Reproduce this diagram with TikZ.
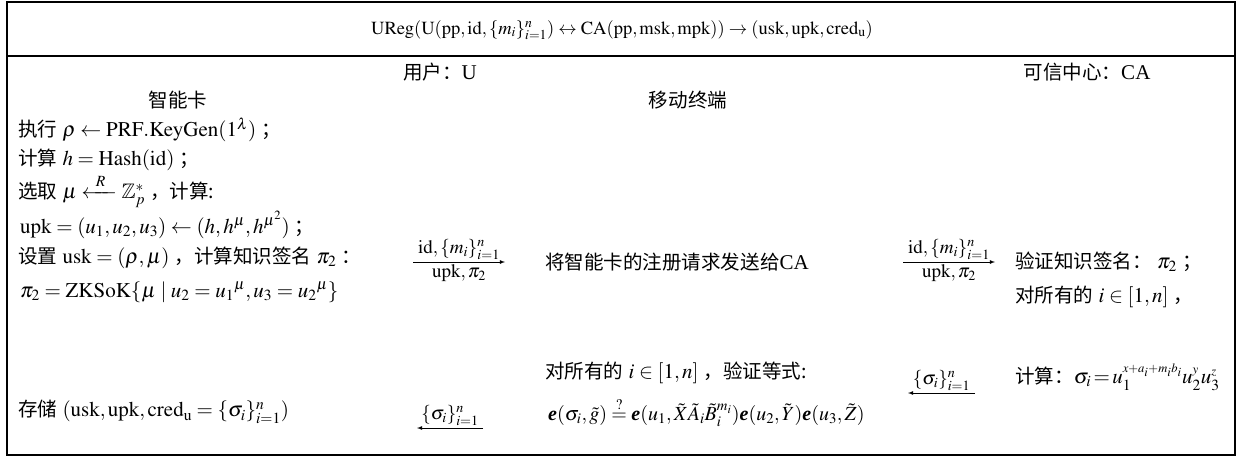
\documentclass[tikz,border=0pt]{standalone}
\usepackage{amsmath}
\usepackage{amssymb}
\usepackage{mathptmx}
\usepackage[no-math]{fontspec}
\setmainfont{Liberation Serif}
\newfontfamily\cjk[Scale=0.93]{Noto Sans CJK SC}
\newcommand{\zh}[1]{{\cjk #1}}
\newcommand{\be}{\textbf{\textit{e}}}
\usetikzlibrary{arrows}

\begin{document}
\begin{tikzpicture}[x=1pt, y=-1pt,
  txt/.style={anchor=west, inner sep=0pt, font=\fontsize{21}{25}\selectfont},
  head/.style={inner sep=0pt, font=\fontsize{21}{25}\selectfont},
  ttl/.style={inner sep=0pt, font=\fontsize{18.5}{22}\selectfont},
  lbl/.style={inner sep=2pt, font=\fontsize{19}{22}\selectfont},
  msg/.style={-latex, line width=0.8pt}]
  \useasboundingbox (0,0) rectangle (1237,458);
  % 外框与分隔线
  \draw[line width=2pt] (7,2) rectangle (1235,455);
  \draw[line width=2pt] (7,56) -- (1235,56);
  % 标题
  \node[ttl] (title) at (622,30)
    {$\mathrm{UReg}(\mathrm{U}(\mathrm{pp},\mathrm{id},\{m_i\}_{i=1}^n)\leftrightarrow\mathrm{CA}(\mathrm{pp},\mathrm{msk},\mathrm{mpk}))\rightarrow(\mathrm{usk},\mathrm{upk},\mathrm{cred_u})$};
  % 参与方
  \node[head] (user)  at (440,72)  {\zh{用户：}U};
  \node[head] (ca)    at (1087,72) {\zh{可信中心：}CA};
  \node[head] (card)  at (178,100) {\zh{智能卡}};
  \node[head] (phone) at (688,100) {\zh{移动终端}};
  % 智能卡一侧
  \node[txt] (L1) at (18,130) {\zh{执行} $\rho\leftarrow\mathrm{PRF.KeyGen}(1^\lambda)$ \zh{；}};
  \node[txt] (L2) at (18,160) {\zh{计算} $h=\mathrm{Hash(id)}$ \zh{；}};
  \node[txt] (L3) at (18,191) {\zh{选取} $\mu\xleftarrow{\;\;R\;\;}\mathbb{Z}_p^*$ \zh{，计算:}};
  \node[txt] (L4) at (20,225) {$\mathrm{upk}=(u_1,u_2,u_3)\leftarrow(h,h^\mu,h^{\mu^2})$ \zh{；}};
  \node[txt] (L5) at (18,258) {\zh{设置} $\mathrm{usk}=(\rho,\mu)$ \zh{，计算知识签名} $\pi_2$ \zh{：}};
  \node[txt] (L6) at (20,292) {$\pi_2=\mathrm{ZKSoK}\{\mu\mid u_2={u_1}^\mu,u_3={u_2}^\mu\}$};
  \node[txt] (L7) at (18,412) {\zh{存储} $(\mathrm{usk,upk,cred_u}=\{\sigma_i\}_{i=1}^n)$};
  % 移动终端一侧
  \node[txt] (M1) at (545,262) {\zh{将智能卡的注册请求发送给}CA};
  \node[txt] (M2) at (545,373) {\zh{对所有的} $i\in[1,n]$ \zh{，验证等式:}};
  \node[txt, font=\fontsize{20}{24}\selectfont] (M3) at (548,412)
    {$\be(\sigma_i,\tilde{g})\overset{?}{=}\be(u_1,\tilde{X}\tilde{A}_i\tilde{B}_i^{m_i})\be(u_2,\tilde{Y})\be(u_3,\tilde{Z})$};
  % 可信中心一侧
  \node[txt] (R1) at (1015,262) {\zh{验证知识签名：} $\pi_2$ \zh{；}};
  \node[txt] (R2) at (1015,297) {\zh{对所有的} $i\in[1,n]$ \zh{，}};
  \node[txt] (R3) at (1015,377)
    {\zh{计算：}$\sigma_i\!=\!u_1^{\scriptscriptstyle x+a_i+m_ib_i}u_2^{\scriptscriptstyle y}u_3^{\scriptscriptstyle z}$};
  % 消息箭头
  \coordinate (a1s) at (413,262); \coordinate (a1e) at (505,262);
  \coordinate (a2s) at (903,262); \coordinate (a2e) at (995,262);
  \coordinate (b1s) at (975,393); \coordinate (b1e) at (908,393);
  \coordinate (b2s) at (483,428); \coordinate (b2e) at (417,428);
  \draw[msg] (a1s) -- node[lbl, above] (a1t) {$\mathrm{id},\{m_i\}_{i=1}^n$}
    node[lbl, below] (a1b) {$\mathrm{upk},\pi_2$} (a1e);
  \draw[msg] (a2s) -- node[lbl, above] (a2t) {$\mathrm{id},\{m_i\}_{i=1}^n$}
    node[lbl, below] (a2b) {$\mathrm{upk},\pi_2$} (a2e);
  \draw[msg] (b1s) -- node[lbl, above] (b1t) {$\{\sigma_i\}_{i=1}^n$} (b1e);
  \draw[msg] (b2s) -- node[lbl, above] (b2t) {$\{\sigma_i\}_{i=1}^n$} (b2e);
\end{tikzpicture}
\end{document}
